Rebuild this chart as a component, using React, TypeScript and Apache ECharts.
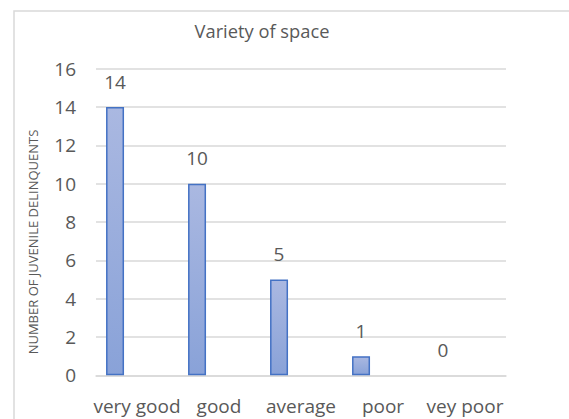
import React, { useEffect, useRef } from "react";
import * as echarts from "echarts";

const categories = ["very good", "good", "average", "poor", "vey poor"];
const values = [14, 10, 5, 1, 0];
const emptySeries: (number | null)[] = [null, null, null, null, null];
const yTicks = { min: 0, max: 16, interval: 2 };
const title = "Variety of space";
const yName = "NUMBER OF JUVENILE DELINQUENTS";

export default function App() {
  const ref = useRef<HTMLDivElement>(null);
  useEffect(() => {
    if (!ref.current) return;
    const chart = echarts.init(ref.current, null, { renderer: "svg" });
    const grey = "#595959";
    const font = "'Open Sans', sans-serif";
    chart.setOption({
      animation: false,
      backgroundColor: "#ffffff",
      title: {
        text: title,
        left: 257,
        top: 16,
        textAlign: "center",
        textStyle: { color: grey, fontSize: 18.3, fontWeight: "normal", fontFamily: font },
      },
      grid: { left: 96, right: 63, top: 68.7, bottom: 43.7, containLabel: false },
      xAxis: {
        type: "category",
        data: categories,
        axisLine: { show: true, lineStyle: { color: "#d9d9d9", width: 1.5 } },
        axisTick: { show: false },
        axisLabel: { color: grey, fontSize: 19, fontFamily: font, margin: 21, interval: 0 },
      },
      yAxis: {
        type: "value",
        min: yTicks.min,
        max: yTicks.max,
        interval: yTicks.interval,
        axisLine: { show: false },
        axisTick: { show: false },
        axisLabel: { color: grey, fontSize: 19, fontFamily: font, margin: 20 },
        splitLine: { lineStyle: { color: "#d9d9d9", width: 1.5 } },
      },
      graphic: [
        {
          type: "rect",
          shape: { x: 14, y: 11, width: 700, height: 600 },
          style: { fill: "none", stroke: "#d9d9d9", lineWidth: 1.5 },
          silent: true,
          z: -10,
        },
        {
          type: "text",
          x: 33,
          y: 242,
          rotation: Math.PI / 2,
          style: {
            text: yName,
            fill: grey,
            fontSize: 13,
            fontFamily: font,
            align: "center",
            verticalAlign: "middle",
          },
        },
      ],
      series: [
        {
          type: "bar",
          data: values.map((v) =>
            v === 0
              ? { value: v, itemStyle: { color: "transparent", borderWidth: 0 } }
              : v
          ),
          barWidth: 18,
          barGap: "144%",
          itemStyle: {
            color: new echarts.graphic.LinearGradient(0, 0, 0, 1, [
              { offset: 0, color: "#aab8e1" },
              { offset: 1, color: "#89a2d8" },
            ]),
            borderColor: "#4472c4",
            borderWidth: 1.5,
          },
          label: {
            show: true,
            position: "top",
            distance: 16,
            color: grey,
            fontSize: 19,
            fontFamily: font,
          },
        },
        {
          type: "bar",
          data: emptySeries,
          barWidth: 18,
          barGap: "144%",
        },
      ],
    });
    return () => chart.dispose();
  }, []);
  return (
    <div
      ref={ref}
      style={{ position: "absolute", left: 0, top: 0, width: 569, height: 419 }}
    />
  );
}
